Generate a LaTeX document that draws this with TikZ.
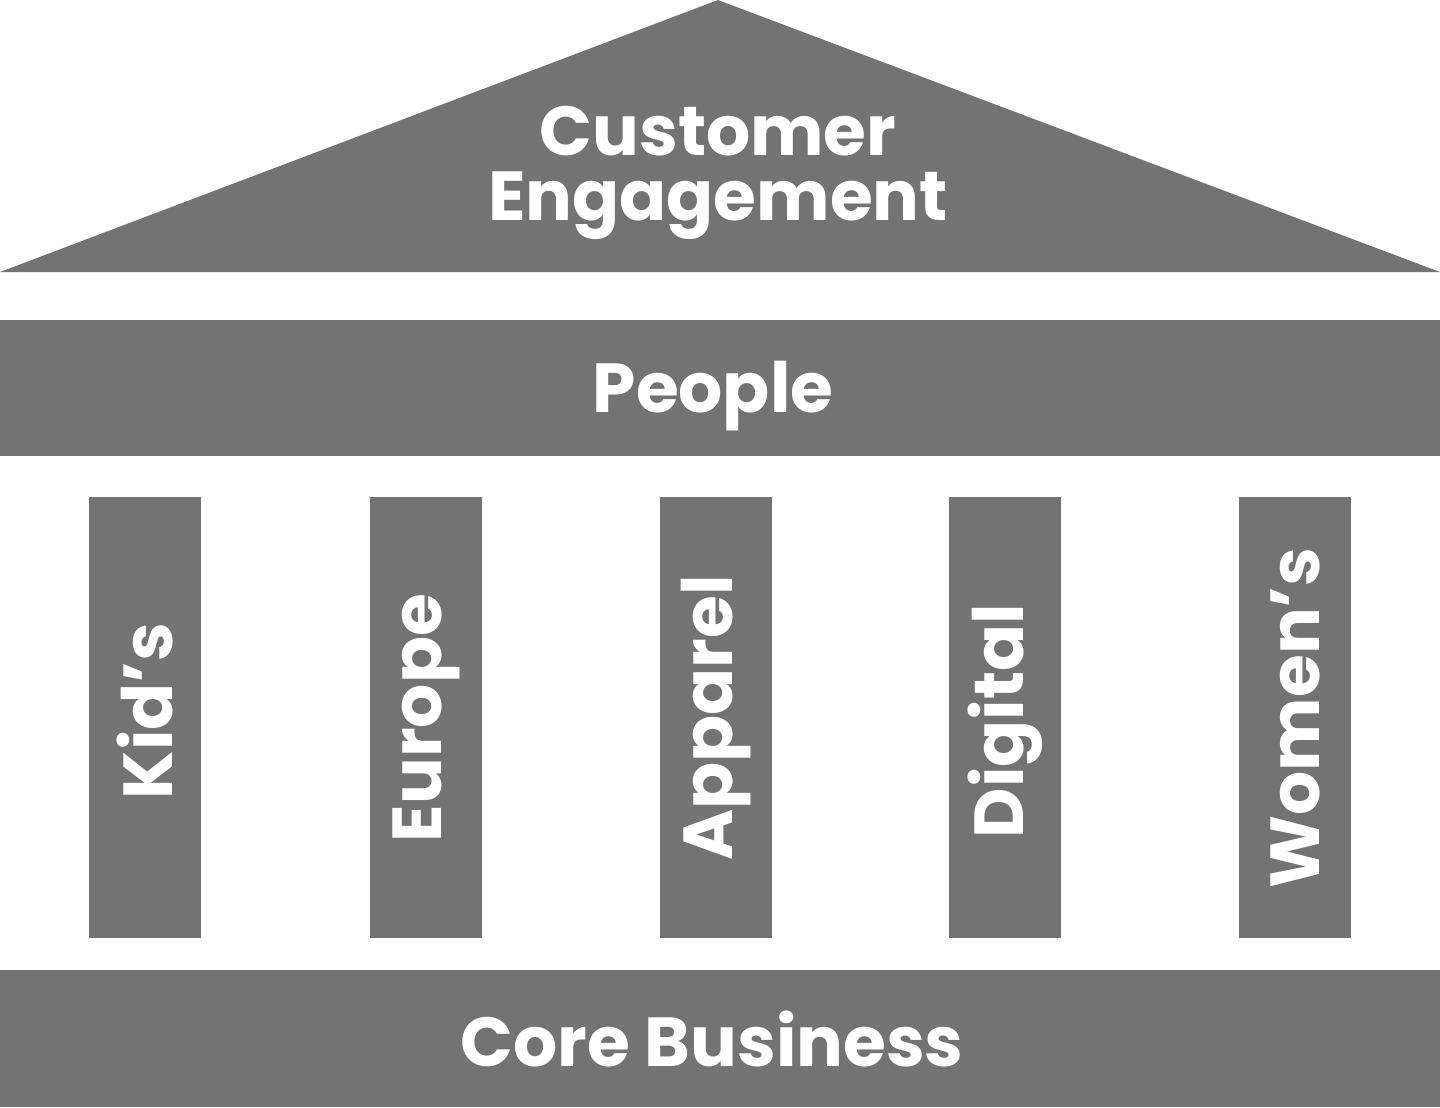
\documentclass[tikz,border=0pt]{standalone}
\usepackage{fontspec}
\setmainfont{Poppins}
\definecolor{slate}{HTML}{737373}
\tikzset{every picture/.style={line width=0.75pt}}
\tikzset{
  block/.style={fill=slate, draw=none},
  lbl/.style={text=white, font=\fontsize{39.5}{40}\selectfont\bfseries, inner sep=0pt},
  pillarlbl/.style={lbl, rotate=90}
}

\begin{document}
\begin{tikzpicture}[x=0.02cm,y=-0.02cm]
\useasboundingbox (0,0) rectangle (1440,1107);
% roof
\fill [block] (718,0) -- (1440,272) -- (0,272) -- cycle;
\node [lbl, anchor=base] (roofa) at (718,155) {Customer};
\node [lbl, anchor=base] (roofb) at (718,220) {Engagement};
% beam
\fill [block] (0,320) rectangle (1440,456);
\node [lbl, anchor=base] (people) at (713,412) {People};
% pillars
\fill [block] (89,497) rectangle (201,938);
\fill [block] (370,497) rectangle (482,938);
\fill [block] (660,497) rectangle (772,938);
\fill [block] (949,497) rectangle (1061,938);
\fill [block] (1239,497) rectangle (1351,938);
\node [pillarlbl] (kids) at (145,711) {Kid’s};
\node [pillarlbl] (europe) at (426,718) {Europe};
\node [pillarlbl] (apparel) at (716,718) {Apparel};
\node [pillarlbl] (digital) at (1005,721) {Digital};
\node [pillarlbl] (womens) at (1295,718) {Women’s};
% base
\fill [block] (0,970) rectangle (1440,1107);
\node [lbl, anchor=base] (core) at (712,1066) {Core Business};
\end{tikzpicture}
\end{document}
